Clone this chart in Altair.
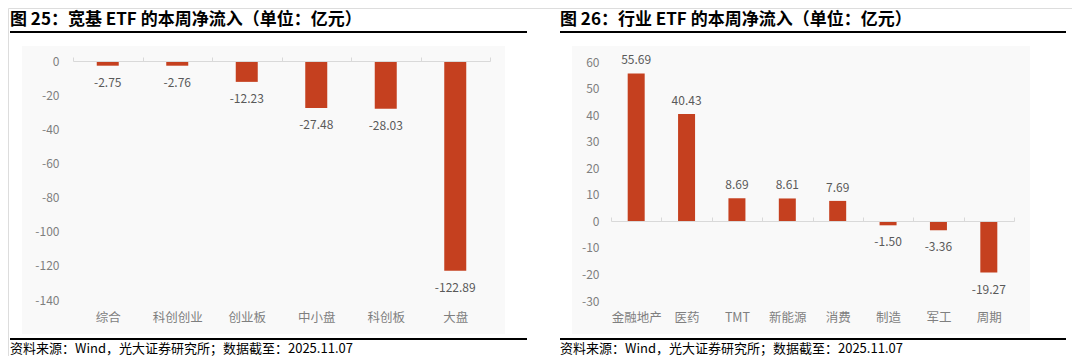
import altair as alt
import pandas as pd

FONT = "Noto Sans CJK SC"
RED = "#C5401F"

# ---- data ----
cats1 = ["综合", "科创创业", "创业板", "中小盘", "科创板", "大盘"]
vals1 = [-2.75, -2.76, -12.23, -27.48, -28.03, -122.89]
ticks1 = [0, -20, -40, -60, -80, -100, -120, -140]

cats2 = ["金融地产", "医药", "TMT", "新能源", "消费", "制造", "军工", "周期"]
vals2 = [55.69, 40.43, 8.69, 8.61, 7.69, -1.50, -3.36, -19.27]
ticks2 = [60, 50, 40, 30, 20, 10, 0, -10, -20, -30]

title1 = "图 25：宽基 ETF 的本周净流入（单位：亿元）"
title2 = "图 26：行业 ETF 的本周净流入（单位：亿元）"
source = "资料来源：Wind，光大证券研究所；数据截至：2025.11.07"

df1 = pd.DataFrame({"c": cats1, "v": vals1})
df2 = pd.DataFrame({"c": cats2, "v": vals2})
one = pd.DataFrame({"a": [0]})

LBL = "replace(format(datum.v, '.2f'), '\u2212', '-')"


def panel(df, cats, ticks, xr, yr, dom, yoff, xoff, lpad, bar_w):
    base = alt.Chart(df).transform_calculate(lbl=LBL)
    xs = alt.Scale(domain=cats, range=xr, paddingInner=0, paddingOuter=0)
    ys = alt.Scale(domain=dom, range=yr, nice=False, zero=False)
    xax = alt.Axis(orient="top", offset=xoff, domain=True, domainColor="#d9d9d9",
                   domainWidth=1, ticks=True, tickColor="#d9d9d9", tickSize=4,
                   tickBand="extent", labelPadding=lpad, labelBaseline="top",
                   labelAngle=0, title=None, labelColor="#7f7f7f", labelFontSize=12.5,
                   labelFont=FONT, grid=False, zindex=1, labelOverlap=False)
    yax = alt.Axis(orient="left", offset=yoff, values=ticks, domain=False, ticks=False,
                   tickSize=0, labelPadding=0, grid=False, title=None,
                   labelColor="#7f7f7f", labelFontSize=12, labelFont=FONT, zindex=1,
                   labelOverlap=False, labelSeparation=0, labelBound=False,
                   labelFlush=False,
                   labelExpr="replace(datum.label, '\u2212', '-')")
    X = alt.X("c:N", scale=xs, axis=xax, sort=cats)
    Y = alt.Y("v:Q", scale=ys, axis=yax)
    bars = base.mark_bar(size=bar_w, color=RED).encode(x=X, y=Y, y2=alt.datum(0))
    pos = base.transform_filter("datum.v >= 0").mark_text(
        baseline="alphabetic", dy=-9, fontSize=12, font=FONT, color="#595959"
    ).encode(x=X, y=Y, text="lbl:N")
    neg = base.transform_filter("datum.v < 0").mark_text(
        baseline="alphabetic", dy=21, fontSize=12, font=FONT, color="#595959"
    ).encode(x=X, y=Y, text="lbl:N")
    return alt.layer(bars, pos, neg)


def deco(x0, x1, bx0, bx1, title):
    c = alt.Chart(one)
    bg = c.mark_rect(color="#f9f9f9").encode(
        x=alt.value(bx0), x2=alt.value(bx1), y=alt.value(38), y2=alt.value(326))
    t = c.mark_text(align="left", baseline="middle", fontSize=17, fontWeight="bold",
                    font=FONT, color="#000000").encode(
        x=alt.value(x0), y=alt.value(12), text=alt.value(title))
    r1 = c.mark_rule(color="#000000", strokeWidth=2).encode(
        x=alt.value(x0), x2=alt.value(x1), y=alt.value(24))
    r2 = c.mark_rule(color="#000000", strokeWidth=2).encode(
        x=alt.value(x0), x2=alt.value(x1), y=alt.value(331))
    s = c.mark_text(align="left", baseline="middle", fontSize=13, font=FONT,
                    color="#000000").encode(
        x=alt.value(x0), y=alt.value(341), text=alt.value(source))
    return [bg, t, r1, r2, s]


p1 = panel(df1, cats1, ticks1, [65, 482], [292, 53], [-140, 0], -51, -53, -254, 22)
p2 = panel(df2, cats2, ticks2, [603, 1006], [293, 54], [-30, 60], -591, -213, -94, 17)

chart = alt.layer(
    *deco(2, 519, 14, 497, title1),
    *deco(552, 1058, 564, 1022, title2),
    p1, p2,
).resolve_scale(x="independent", y="independent").properties(
    width=1064, height=348,
    autosize=alt.AutoSizeParams(type="none"),
    padding=0,
).configure_view(stroke=None).configure(font=FONT).configure_axis(labelOverlap=False)

chart.save("out.html", embed_options={"renderer": "svg", "actions": False})
